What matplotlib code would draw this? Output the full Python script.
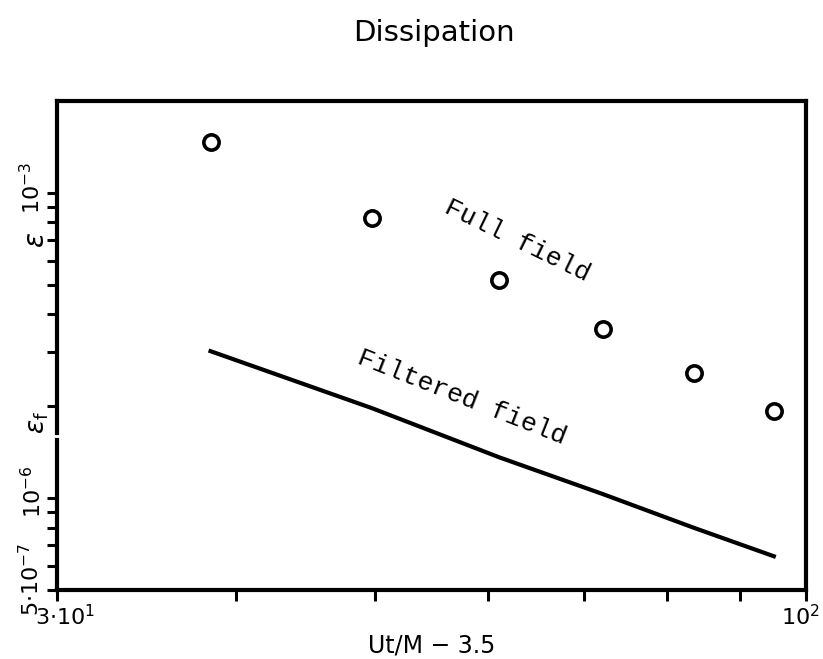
"""Dissipation of the full and filtered field versus Ut/M - 3.5 (log-log)"""
import numpy as np
import matplotlib
matplotlib.use("Agg")
import matplotlib.pyplot as plt
import matplotlib.transforms as mtransforms
from matplotlib.ticker import NullFormatter

## data
UT_M = [38.4, 49.8, 61.1, 72.2, 83.5, 95.0]          # Ut/M - 3.5
EPS_FULL = [1.47e-3, 8.3e-4, 5.2e-4, 3.57e-4, 2.57e-4, 1.93e-4]
EPS_FILT = [3.03e-6, 1.97e-6, 1.36e-6, 1.03e-6, 8.0e-7, 6.45e-7]
## the filtered field is drawn on the same axis shifted by two decades
F_SCALE = 100.0

fig = plt.figure(figsize=(8.23, 6.59), dpi=100, facecolor="w")
ax = fig.add_axes([0.0693, 0.1047, 0.9097, 0.742])

ax.plot(UT_M, EPS_FULL, "o", mfc="none", mec="k", ms=11, mew=2.6, clip_on=False)
ax.plot(UT_M, np.array(EPS_FILT) * F_SCALE, "-", color="k", lw=3)

ax.set_xscale("log")
ax.set_yscale("log")
ax.set_xlim(30, 100)
ax.set_ylim(5e-5, 2e-3)

## x ticks: only the ends are labelled
ax.set_xticks([30, 100])
ax.set_xticklabels([r"$3{\cdot}10^1$", r"$10^2$"], fontsize=16)
ax.set_xticks([40, 50, 60, 70, 80, 90], minor=True)
ax.xaxis.set_minor_formatter(NullFormatter())
ax.tick_params(axis="x", which="both", direction="out", length=8, width=2.2, pad=2)
left_lab, right_lab = ax.get_xticklabels()
left_lab.set_transform(left_lab.get_transform()
                       + mtransforms.ScaledTranslation(6 / 72, 0, fig.dpi_scale_trans))
right_lab.set_transform(right_lab.get_transform()
                        + mtransforms.ScaledTranslation(-4 / 72, 0, fig.dpi_scale_trans))

## y ticks: upper part for eps, lower part for eps_f
upper = [1e-3, 9e-4, 8e-4, 7e-4, 6e-4, 5e-4, 4e-4, 3e-4, 2e-4]
lower = [1e-6, 9e-7, 8e-7, 7e-7, 6e-7, 5e-7]
ax.set_yticks(upper + [v * F_SCALE for v in lower])
ax.set_yticks([], minor=True)
ax.set_yticklabels([])
ax.tick_params(axis="y", which="both", direction="out", length=7, width=2.2)

## left labels, rotated like in the original
trans = mtransforms.blended_transform_factory(ax.transAxes, ax.transData)
lab = dict(transform=trans, rotation=90, ha="center", va="center", fontsize=16)
ax.text(-0.034, 1.04e-3, r"$10^{-3}$", **lab)
ax.text(-0.028, 7.0e-4, r"$\varepsilon$", **dict(lab, fontsize=20))
ax.text(-0.026, 1.77e-4, r"$\varepsilon_\mathrm{f}$", **dict(lab, fontsize=19))
ax.text(-0.032, 1.05e-4, r"$10^{-6}$", **lab)
ax.text(-0.035, 5.4e-5, r"$5{\cdot}10^{-7}$", **lab)

## frame, left side has a small break next to eps_f
for side in ["top", "right", "bottom"]:
    ax.spines[side].set_linewidth(3)
ax.spines["left"].set_visible(False)
ax.axvline(30, ymin=0, ymax=0.307, color="k", lw=3, clip_on=False)
ax.axvline(30, ymin=0.321, ymax=1, color="k", lw=3, clip_on=False)

## curve labels
ax.text(62.9, 7.0e-4, "Full field", family="Liberation Mono", fontsize=19,
        rotation=-26, ha="center", va="center", rotation_mode="anchor")
ax.text(57.5, 2.14e-4, "Filtered field", family="Liberation Mono", fontsize=19,
        rotation=-21.5, ha="center", va="center", rotation_mode="anchor")

ax.set_xlabel("Ut/M \u2212 3.5", fontsize=17, labelpad=3)
fig.text(0.527, 0.95, "Dissipation", ha="center", va="center", fontsize=21)

fig.savefig("out.png", dpi=100, facecolor="w")
